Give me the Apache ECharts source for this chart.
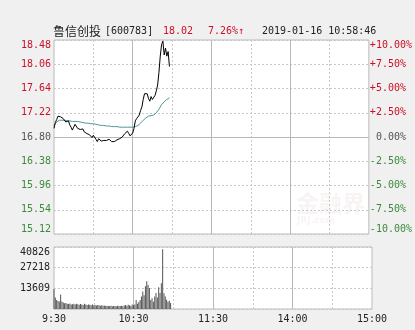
<!DOCTYPE html>
<html><head><meta charset="utf-8">
<script src="https://cdn.jsdelivr.net/npm/echarts@6/dist/echarts.min.js"></script>
<style>html,body{margin:0;padding:0;background:#f0f0f0}#c{width:415px;height:330px}</style>
</head><body><div id="c"></div><script>
const prevClose = 16.80;
const tickLabels = ['9:30','10:30','11:30','14:00','15:00'];
const volTicks = [13609, 27218, 40826];
const price = [
16.95,17.05,17.10,17.16,17.18,17.15,17.16,17.12,17.14,17.06,
17.03,17.08,17.01,16.97,16.92,16.97,17.02,16.99,16.95,16.98,
16.93,16.91,16.94,16.89,16.88,16.86,16.89,16.84,16.82,16.79,
16.83,16.80,16.76,16.72,16.77,16.75,16.73,16.71,16.74,16.76,
16.74,16.75,16.76,16.73,16.72,16.73,16.72,16.74,16.75,16.76,
16.77,16.77,16.80,16.82,16.86,16.88,16.90,16.86,16.82,16.84,
16.87,16.95,17.08,17.12,17.10,17.18,17.26,17.32,17.45,17.55,
17.57,17.55,17.47,17.42,17.50,17.45,17.42,17.52,17.60,17.70,
17.92,18.20,18.40,18.46,18.22,18.34,18.20,18.28,18.02];
const avgPrice = [
17.00,17.03,17.06,17.08,17.09,17.09,17.09,17.09,17.09,17.09,
17.08,17.08,17.08,17.08,17.07,17.07,17.07,17.07,17.07,17.06,
17.06,17.06,17.05,17.05,17.04,17.04,17.04,17.03,17.03,17.03,
17.03,17.02,17.02,17.01,17.01,17.01,17.00,17.00,17.00,17.00,
16.99,16.99,16.99,16.99,16.98,16.98,16.98,16.98,16.98,16.98,
16.97,16.97,16.97,16.97,16.97,16.97,16.97,16.97,16.97,16.97,
16.97,16.97,16.98,16.99,17.00,17.02,17.04,17.06,17.09,17.11,
17.13,17.15,17.16,17.17,17.17,17.18,17.18,17.19,17.22,17.25,
17.28,17.32,17.36,17.39,17.41,17.43,17.45,17.47,17.48];
const volume = [
13200,7500,6000,5200,5000,9500,5000,4200,3800,4000,
3500,3300,3600,3000,3200,3400,3000,3500,3100,2800,
3300,3000,2700,3500,2900,2600,3000,2800,2500,2900,
2400,2700,2300,2600,2400,2200,2500,2100,2300,2000,
2200,2000,1900,2100,1800,2000,1900,1800,2100,1900,
2000,2200,1800,2300,2600,2200,2800,2400,2000,2900,
2500,3000,5900,3500,4600,6000,8300,11600,9000,14900,
18200,15800,13800,6000,7000,4800,8300,10500,7500,14300,
10500,16900,39300,10300,8300,6100,4800,5500,4000];

// minute categories 9:30-11:30, 13:01-15:00
const cats = [];
function pad(n){return (n<10?'0':'')+n;}
for (let m = 570; m <= 690; m++) cats.push(Math.floor(m/60)+':'+pad(m%60));
for (let m = 781; m <= 900; m++) cats.push(Math.floor(m/60)+':'+pad(m%60));

const RED = '#cc1026', GREEN = '#3d8a3d', GRAY = '#555555';
const MONO = 'DejaVu Sans Mono';
const gridLine = '#c8c8c8';

function mkX(grid, kind, showLabel) {
  return {
    type: 'category', gridIndex: grid, data: cats, boundaryGap: false,
    axisLine: {show: false}, axisTick: {show: false},
    axisLabel: {
      show: showLabel, interval: (i) => i % 60 === 0, margin: 5,
      formatter: (v, i) => tickLabels[Math.round(i / 60)],
      fontFamily: MONO, fontSize: 10, color: '#222'
    },
    splitLine: {
      show: true,
      interval: kind === 'dash' ? (i) => i % 60 === 30 : (i) => i % 60 === 0 && i > 0 && i < 240,
      lineStyle: {color: kind === 'dash' ? gridLine : '#b8b8b8', type: kind === 'dash' ? [2, 2] : 'solid', width: 1}
    }
  };
}

const chart = echarts.init(document.getElementById('c'), null, {renderer: 'canvas'});
chart.setOption({
  animation: false,
  backgroundColor: '#f0f0f0',
  grid: [
    {left: 54, top: 40, width: 318, height: 194, show: true, backgroundColor: '#fff', borderColor: '#bbbbbb', borderWidth: 1},
    {left: 54, top: 247, width: 318, height: 62, show: true, backgroundColor: '#fff', borderColor: '#bbbbbb', borderWidth: 1}
  ],
  xAxis: [mkX(0, 'dash', false), mkX(0, 'solid', false), mkX(1, 'dash', true), mkX(1, 'solid', false)],
  yAxis: [
    {
      gridIndex: 0, type: 'value', min: 15.12, max: 18.48, interval: 0.42,
      axisLine: {show: false}, axisTick: {show: false},
      splitLine: {show: true, lineStyle: {color: gridLine, type: [2, 2]}},
      axisLabel: {
        margin: 3, fontFamily: MONO, fontSize: 10,
        verticalAlignMaxLabel: 'top', verticalAlignMinLabel: 'bottom',
        formatter: (v) => {
          const s = v.toFixed(2);
          if (v > prevClose + 1e-6) return '{r|' + s + '}';
          if (v < prevClose - 1e-6) return '{g|' + s + '}';
          return '{n|' + s + '}';
        },
        rich: {r: {color: RED, fontFamily: MONO, fontSize: 10}, g: {color: GREEN, fontFamily: MONO, fontSize: 10}, n: {color: GRAY, fontFamily: MONO, fontSize: 10}}
      }
    },
    {
      gridIndex: 0, type: 'value', position: 'right', min: -10, max: 10, interval: 2.5,
      axisLine: {show: false}, axisTick: {show: false}, splitLine: {show: false},
      axisLabel: {
        margin: 1, fontFamily: MONO, fontSize: 10,
        verticalAlignMaxLabel: 'top', verticalAlignMinLabel: 'bottom',
        formatter: (v) => {
          const s = Math.abs(v).toFixed(2) + '%';
          if (v > 1e-6) return '{r|+' + s + '}';
          if (v < -1e-6) return '{g|-' + s + '}';
          return '{n| ' + s + '}';
        },
        rich: {r: {color: RED, fontFamily: MONO, fontSize: 10}, g: {color: GREEN, fontFamily: MONO, fontSize: 10}, n: {color: GRAY, fontFamily: MONO, fontSize: 10}}
      }
    },
    {
      gridIndex: 1, type: 'value', min: 0, max: volTicks[2], interval: volTicks[2] / 3,
      axisLine: {show: false}, axisTick: {show: false},
      splitLine: {show: true, lineStyle: {color: gridLine, type: [2, 2]}},
      axisLabel: {
        margin: 4, fontFamily: MONO, fontSize: 10, color: '#222', showMinLabel: false,
        verticalAlignMaxLabel: 'top',
        formatter: (v, i) => (i > 0 ? String(volTicks[i - 1]) : '')
      }
    }
  ],
  graphic: [
    {type: 'text', left: 53, top: 25, style: {text: '鲁信创投', fill: '#222', font: '12px "Noto Sans CJK SC"'}},
    {type: 'text', left: 105, top: 26, style: {text: '[600783]', fill: '#222', font: '10px "DejaVu Sans Mono"'}},
    {type: 'text', left: 163, top: 26, style: {text: '18.02', fill: RED, font: '10px "DejaVu Sans Mono"'}},
    {type: 'text', left: 208, top: 26, style: {text: '7.26%↑', fill: RED, font: '10px "DejaVu Sans Mono"'}},
    {type: 'text', left: 262, top: 26, style: {text: '2019-01-16 10:58:46', fill: '#222', font: '10px "DejaVu Sans Mono"'}},
    {type: 'text', left: 296, top: 192, z: 0, style: {text: '金融界', fill: 'rgba(210,185,185,0.16)', font: 'bold 23px "Noto Sans CJK SC"'}},
    {type: 'text', left: 297, top: 216, z: 0, style: {text: 'JRJ.com', fill: 'rgba(210,185,185,0.16)', font: 'bold 9px "DejaVu Sans"'}}
  ],
  series: [
    {
      type: 'line', xAxisIndex: 0, yAxisIndex: 0, data: price, showSymbol: false, symbol: 'none',
      lineStyle: {color: '#000', width: 1}, z: 5,
      markLine: {silent: true, symbol: 'none', label: {show: false}, data: [{yAxis: prevClose}], lineStyle: {color: '#b8b8b8', type: 'solid', width: 1}}
    },
    {type: 'line', xAxisIndex: 0, yAxisIndex: 0, data: avgPrice, showSymbol: false, symbol: 'none', lineStyle: {color: '#4f9595', width: 1}, z: 4},
    {type: 'bar', xAxisIndex: 2, yAxisIndex: 2, data: volume, barWidth: 1, itemStyle: {color: '#555'}}
  ]
});
</script></body></html>
